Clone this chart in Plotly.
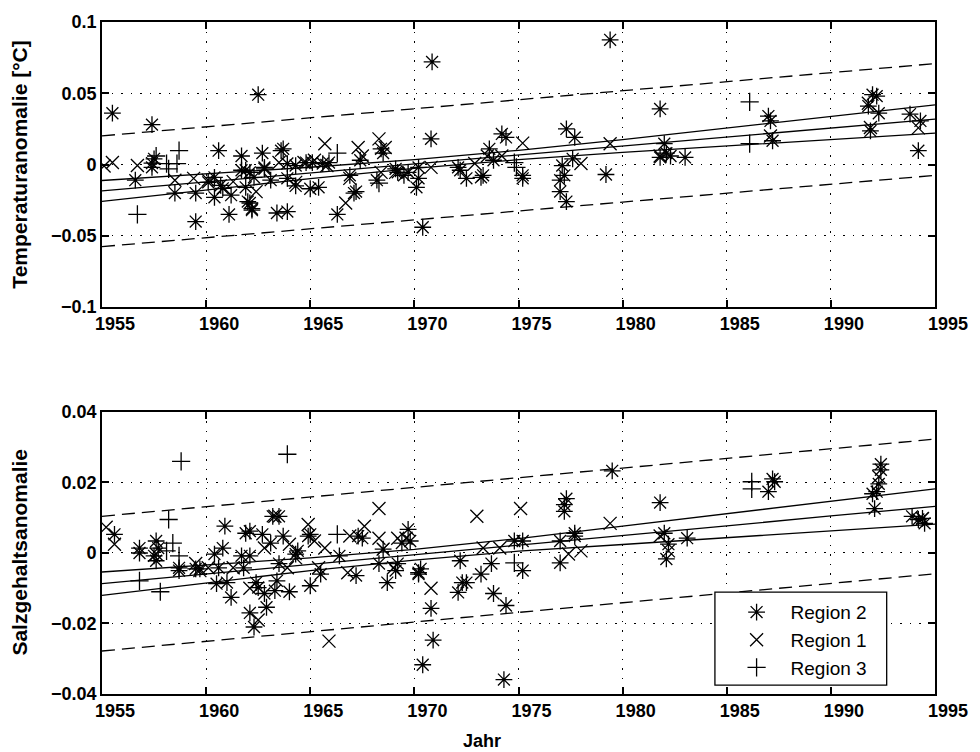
import plotly.graph_objects as go

# ---------------- data ----------------
# Top panel: temperature anomaly [°C]
t_r2_year = [1955.5,1957.4,1956.6,1957.4,1957.4,1957.5,1958.5,1959.5,1959.5,1960.6,1960.1,1960.4,1960.4,1960.7,1960.8,1961.2,1961.1,1961.7,1961.7,1961.9,1962.1,1962.2,1962.5,1962.7,1962.8,1963.1,1963.4,1963.9,1963.6,1963.7,1963.9,1964.3,1964.8,1965.0,1965.4,1966.3,1967.1,1967.4,1968.4,1968.5,1968.2,1969.1,1969.2,1969.5,1969.7,1970.1,1970.2,1970.2,1970.4,1970.85,1970.8,1972.1,1972.2,1972.5,1973.2,1973.3,1973.6,1973.8,1974.2,1974.4,1975.2,1975.2,1977.3,1977.7,1977.1,1977.2,1977.0,1977.0,1977.3,1977.6,1979.2,1979.4,1981.8,1982.0,1982.1,1982.3,1981.8,1983.0,1987.0,1987.1,1987.2,1992.0,1992.2,1991.8,1992.3,1991.9,1993.8,1994.3,1994.2,
             1962.0,1962.2,1962.8,1962.3,1963.9,1964.3,1965.1,1965.6,1965.9,1966.9,1967.2,1961.9,1962.1]
t_r2_val = [0.036,0.028,-0.011,0.001,-0.002,0.004,-0.020,-0.040,-0.020,0.0097,-0.0125,-0.009,-0.023,-0.0146,-0.0167,-0.0215,-0.035,0.006,-0.004,-0.016,-0.027,-0.032,0.049,0.008,-0.003,-0.011,-0.034,-0.033,0.0097,0.011,-0.0097,-0.015,0.0014,-0.017,-0.016,-0.035,-0.020,0.003,0.011,0.008,-0.011,-0.003,-0.0055,-0.0076,-0.0055,-0.016,-0.0097,-0.002,-0.044,0.072,0.018,-0.002,-0.004,-0.0097,-0.009,-0.0076,0.011,0.003,0.0215,0.019,-0.0076,-0.0097,0.025,0.019,-0.0007,-0.0076,-0.011,-0.019,-0.026,0.004,-0.007,0.0875,0.039,0.0146,0.008,0.006,0.005,0.005,0.034,0.0306,0.0167,0.049,0.048,0.041,0.036,0.0236,0.0354,0.0306,0.0097,
            -0.026,-0.031,-0.002,-0.009,0.0007,-0.0007,0.0014,0.0007,0.0014,-0.0076,-0.019,-0.004,-0.0055]
t_r1_year = [1955.1,1955.5,1956.7,1958.5,1959.4,1960.1,1961.3,1962.4,1963.5,1964.3,1964.7,1965.2,1965.7,1965.8,1966.7,1966.9,1967.3,1967.5,1968.3,1968.6,1968.4,1969.1,1970.8,1972.9,1973.5,1974.2,1975.2,1978.0,1979.4,1981.8,1987.1,1991.8,1991.9,1994.2]
t_r1_val = [-0.001,0.0014,-0.0007,-0.011,-0.0097,-0.011,-0.012,-0.019,0.0014,-0.0125,0.0014,0.003,0.0146,-0.0007,-0.027,-0.0097,0.012,0.006,0.018,0.012,-0.0055,-0.0055,-0.002,0.0007,0.006,0.006,0.015,0.0007,0.0146,0.006,0.020,0.043,0.026,0.0257]
t_r3_year = [1956.7,1957.6,1958.1,1958.2,1958.7,1958.6,1966.3,1968.3,1974.8,1974.9,1986.1,1986.1]
t_r3_val = [-0.035,0.006,0.0007,-0.003,0.0097,0.0007,0.008,-0.013,0.0014,-0.002,0.044,0.0146]

# Bottom panel: salinity anomaly
s_r2_year = [1955.6,1956.8,1956.8,1957.6,1957.7,1957.5,1957.6,1958.7,1958.7,1959.5,1959.7,1960.9,1960.4,1960.8,1960.6,1961.8,1960.5,1961.0,1961.2,1961.9,1962.1,1961.7,1962.1,1962.7,1962.4,1962.5,1962.1,1962.3,1962.8,1962.9,1963.2,1963.5,1963.1,1963.5,1963.4,1963.3,1963.7,1964.0,1964.3,1964.4,1965.0,1964.9,1965.0,1965.5,1966.4,1967.3,1967.5,1967.2,1968.5,1968.3,1968.7,1969.2,1969.1,1969.4,1969.7,1969.8,1970.2,1970.3,1970.2,1970.8,1970.9,1970.4,1972.2,1972.1,1972.3,1972.5,1973.2,1973.7,1973.8,1974.4,1974.3,1974.8,1975.2,1975.2,1977.3,1977.2,1977.2,1977.0,1977.0,1977.7,1977.7,1979.5,1981.8,1982.0,1982.2,1982.1,1983.1,1987.2,1987.3,1987.0,1992.4,1992.4,1992.3,1992.2,1992.0,1992.1,1993.9,1994.2,1994.5,1994.4]
s_r2_val = [0.0053,0.0014,0.0,0.0034,0.0014,-0.0008,-0.0022,-0.0042,-0.005,-0.0045,-0.0045,0.0076,-0.0003,0.0014,-0.0042,-0.0042,-0.0087,-0.0084,-0.0126,0.0056,0.0062,-0.0008,-0.0008,0.0053,-0.0084,-0.0098,-0.017,-0.021,-0.0115,-0.0154,0.0104,0.0104,0.0028,-0.003,-0.0079,-0.0107,0.0048,-0.011,-0.0003,0.0006,-0.0093,0.0048,0.0053,-0.006,-0.0008,0.0048,0.0042,-0.0064,0.0011,-0.003,-0.0084,-0.003,-0.005,0.0028,0.0067,0.0034,-0.0056,-0.0045,-0.006,-0.0157,-0.0247,-0.0317,-0.0022,-0.0112,-0.0084,-0.0084,-0.006,-0.003,-0.0115,-0.0149,-0.0359,0.0034,0.0034,-0.005,0.0154,0.0137,0.0118,0.0034,-0.0028,0.0056,0.0048,0.0233,0.0143,0.0056,0.0025,-0.0017,0.0042,0.021,0.0202,0.0174,0.0252,0.0236,0.0196,0.0174,0.0168,0.0126,0.0104,0.0095,0.0084,0.0098]
s_r1_year = [1955.2,1955.6,1957.6,1959.5,1959.7,1960.1,1961.3,1962.1,1962.5,1963.3,1962.8,1964.0,1963.9,1964.3,1964.9,1965.2,1965.7,1965.4,1965.9,1966.9,1967.6,1966.8,1968.3,1968.3,1968.5,1969.0,1969.2,1969.6,1970.8,1973.0,1973.3,1974.1,1975.1,1977.4,1978.0,1979.4,1981.8,1982.2,1992.3,1994.4]
s_r1_val = [0.0073,0.0025,-0.0003,-0.003,-0.005,-0.0042,-0.0042,-0.010,-0.019,0.0104,0.0014,0.0025,-0.0042,-0.0014,0.0081,0.0034,0.0014,-0.0042,-0.025,0.0048,0.0076,-0.0056,0.0126,0.0042,0.0011,-0.0042,0.0042,0.0042,-0.010,0.0104,0.0014,0.0014,0.0126,-0.0003,0.0006,0.0084,0.0048,0.0006,0.0216,0.0098]
s_r3_year = [1958.8,1963.9,1956.8,1958.2,1958.4,1958.1,1958.7,1957.8,1966.3,1974.8,1986.2,1986.2]
s_r3_val = [0.026,0.028,-0.0079,0.0095,0.0028,0.0006,-0.0008,-0.011,0.0053,-0.0028,0.0202,0.0182]

# Trend line and confidence bands (read at 5-year steps)
band_years = [1955,1960,1965,1970,1975,1980,1985,1990,1995]
t_trend = [-0.0185,-0.0122,-0.0059,0.0004,0.0067,0.0130,0.0193,0.0256,0.0319]
t_upper = [-0.0112,-0.0067,-0.0019,0.0035,0.0100,0.0175,0.0255,0.0336,0.0418]
t_lower = [-0.0258,-0.0177,-0.0099,-0.0027,0.0034,0.0085,0.0131,0.0176,0.0220]
s_trend = [-0.0087,-0.0060,-0.0032,-0.0005,0.0023,0.0050,0.0077,0.0105,0.0132]
s_upper = [-0.0054,-0.0035,-0.0014,0.0010,0.0041,0.0076,0.0111,0.0147,0.0182]
s_lower = [-0.0120,-0.0085,-0.0050,-0.0020,0.0005,0.0024,0.0043,0.0063,0.0082]
# Prediction limits (dashed)
end_years = [1955, 1995]
t_pred_hi = [0.0201, 0.0708]
t_pred_lo = [-0.0576, -0.0076]
s_pred_hi = [0.0104, 0.0323]
s_pred_lo = [-0.0278, -0.0059]

x_ticks = [1955,1960,1965,1970,1975,1980,1985,1990,1995]
t_ticks = [0.1,0.05,0,-0.05,-0.1]
t_ticktext = ["0.1","0.05","0","\u22120.05","\u22120.1"]
s_ticks = [0.04,0.02,0,-0.02,-0.04]
s_ticktext = ["0.04","0.02","0","\u22120.02","\u22120.04"]

region_names = ["Region 2", "Region 1", "Region 3"]

# ---------------- figure ----------------
FONT = "Liberation Sans"
fig = go.Figure()

def add_panel(xa, ya, r2x, r2y, r1x, r1y, r3x, r3y, trend, up, lo, phi, plo, show):
    for yy in (up, trend, lo):
        fig.add_trace(go.Scatter(x=band_years, y=yy, mode="lines", xaxis=xa, yaxis=ya,
                                 line=dict(color="black", width=1.3), showlegend=False, hoverinfo="skip"))
    for yy in (phi, plo):
        fig.add_trace(go.Scatter(x=end_years, y=yy, mode="lines", xaxis=xa, yaxis=ya,
                                 line=dict(color="black", width=1.3, dash="13px,7px"), showlegend=False, hoverinfo="skip"))
    specs = [(r2x, r2y, "asterisk-open", 14, region_names[0]),
             (r1x, r1y, "x-thin-open", 13, region_names[1]),
             (r3x, r3y, "cross-thin-open", 13, region_names[2])]
    for xs, ys, sym, sz, nm in specs:
        fig.add_trace(go.Scatter(x=xs, y=ys, mode="markers", xaxis=xa, yaxis=ya, name=nm,
                                 marker=dict(symbol=sym, size=sz, color="black",
                                             line=dict(color="black", width=1.3)),
                                 showlegend=show, legendgroup=nm))

add_panel("x", "y", t_r2_year, t_r2_val, t_r1_year, t_r1_val, t_r3_year, t_r3_val,
          t_trend, t_upper, t_lower, t_pred_hi, t_pred_lo, False)
add_panel("x2", "y2", s_r2_year, s_r2_val, s_r1_year, s_r1_val, s_r3_year, s_r3_val,
          s_trend, s_upper, s_lower, s_pred_hi, s_pred_lo, True)

axis_common = dict(showline=True, linecolor="black", linewidth=1.6, mirror="allticks",
                   ticks="inside", ticklen=7, tickwidth=1.6, tickcolor="black",
                   showgrid=True, gridcolor="black", gridwidth=1.4, griddash="1.5px,8px",
                   zeroline=False,
                   tickfont=dict(family=FONT, size=18, color="black", weight="bold"))

fig.update_layout(
    width=980, height=752,
    margin=dict(l=102, r=34, t=15, b=58),
    paper_bgcolor="white", plot_bgcolor="white",
    showlegend=True,
    xaxis=dict(axis_common, domain=[0, 1], range=[1955, 1995], tickvals=x_ticks,
               anchor="y", ticklabelshift=13),
    yaxis=dict(axis_common, domain=[0.5758, 1.0], range=[-0.1, 0.1], tickvals=t_ticks,
               ticktext=t_ticktext, anchor="x"),
    xaxis2=dict(axis_common, domain=[0, 1], range=[1955, 1995], tickvals=x_ticks,
                anchor="y2", ticklabelshift=13),
    yaxis2=dict(axis_common, domain=[0, 0.4197], range=[-0.04, 0.04], tickvals=s_ticks,
                ticktext=s_ticktext, anchor="x2"),
    legend=dict(x=0.745, y=0.150, xanchor="left", yanchor="top",
                bgcolor="rgba(0,0,0,0)", borderwidth=0,
                font=dict(family=FONT, size=19, color="black"),
                itemwidth=58, tracegroupgap=0),
    shapes=[dict(type="rect", xref="paper", yref="paper",
                 x0=0.7358, x1=0.9420, y0=0.0133, y1=0.1517,
                 fillcolor="white", line=dict(color="black", width=1.3), layer="above")],
    annotations=[
        dict(text="Temperaturanomalie [°C]", x=-0.0995, y=(694 - 159) / 679, xref="paper", yref="paper",
             textangle=-90, showarrow=False, xanchor="center", yanchor="middle",
             font=dict(family=FONT, size=21, color="black", weight="bold")),
        dict(text="Salzgehaltsanomalie", x=-0.0995, y=(694 - 551) / 679, xref="paper", yref="paper",
             textangle=-90, showarrow=False, xanchor="center", yanchor="middle",
             font=dict(family=FONT, size=21, color="black", weight="bold")),
        dict(text="Jahr", x=(487 - 102) / 844, y=(694 - 741) / 679, xref="paper", yref="paper",
             showarrow=False, xanchor="center", yanchor="middle",
             font=dict(family=FONT, size=18, color="black", weight="bold")),
    ],
)

fig.write_html("out.html")
